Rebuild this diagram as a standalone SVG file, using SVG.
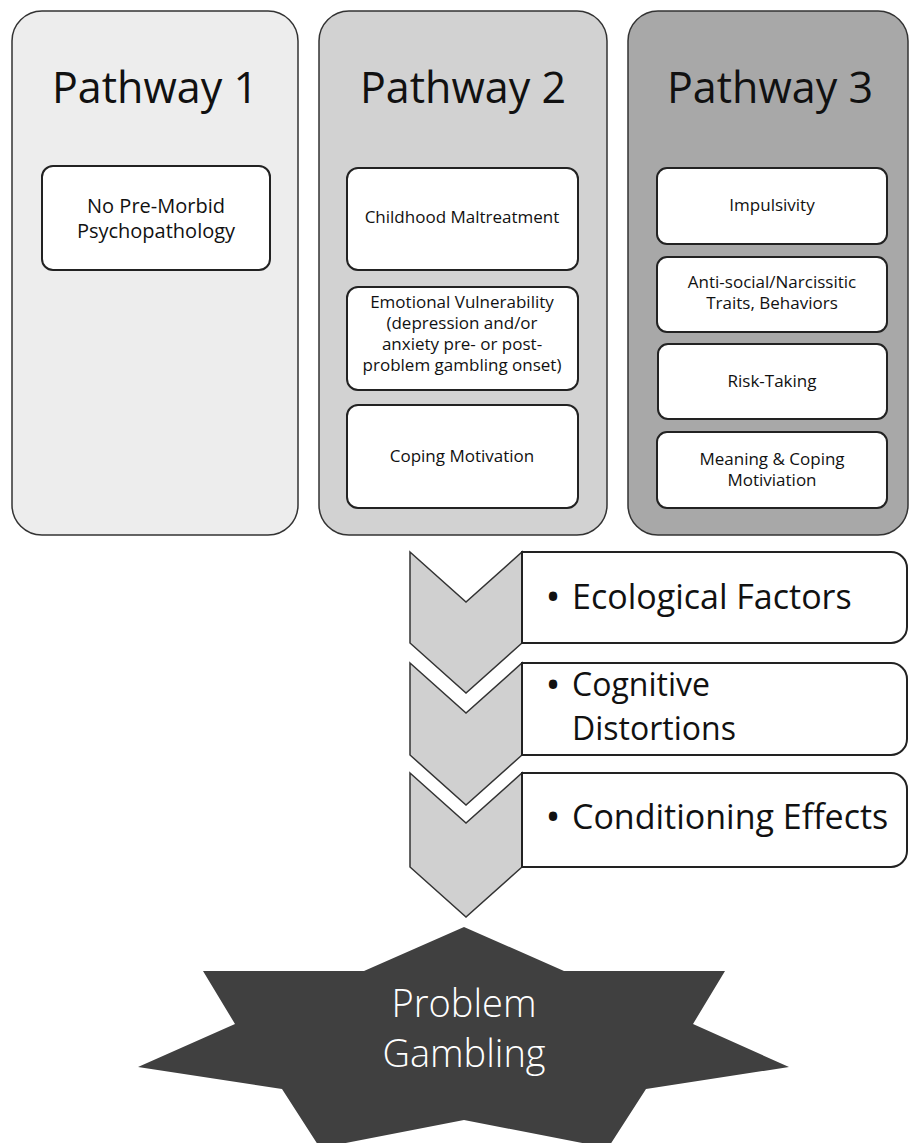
<svg xmlns="http://www.w3.org/2000/svg" width="909" height="1143" viewBox="0 0 909 1143">
<style>
.panel{stroke:#333;stroke-width:1.5}
.box{fill:#fff;stroke:#222;stroke-width:2}
.t{font-family:"Open Sans","Liberation Sans",sans-serif;fill:#111;text-anchor:middle}
.title{font-size:43px}
.small{font-size:17px}
.big{font-size:34px;text-anchor:start}
.bul{font-size:40px}
.chev{fill:#d0d0d0;stroke:#333;stroke-width:1.5;stroke-linejoin:miter}
.rbox{fill:#fff;stroke:#222;stroke-width:2}
</style>
<rect width="909" height="1143" fill="#fff"/>
<g id="pathway1">
<rect class="panel" x="12" y="11" width="286" height="524" rx="30" fill="#ededed"/>
<text class="t title" x="155" y="103">Pathway 1</text>
<g id="p1-no-premorbid">
<rect class="box" x="42" y="166" width="228" height="104" rx="11"/>
<text class="t" style="font-size:20px" x="156" y="213">No Pre-Morbid<tspan x="156" y="238">Psychopathology</tspan></text>
</g>
</g>
<g id="pathway2">
<rect class="panel" x="319" y="11" width="288" height="524" rx="30" fill="#d2d2d2"/>
<text class="t title" x="463" y="103">Pathway 2</text>
<g id="p2-childhood">
<rect class="box" x="347" y="168" width="231" height="102" rx="11"/>
<text class="t small" x="462" y="223">Childhood Maltreatment</text>
</g>
<g id="p2-emotional">
<rect class="box" x="347" y="287" width="231" height="103" rx="11"/>
<text class="t small" x="462" y="308">Emotional Vulnerability<tspan x="462" y="329">(depression and/or</tspan><tspan x="462" y="350">anxiety pre- or post-</tspan><tspan x="462" y="371">problem gambling onset)</tspan></text>
</g>
<g id="p2-coping">
<rect class="box" x="347" y="405" width="231" height="103" rx="11"/>
<text class="t small" x="462" y="462">Coping Motivation</text>
</g>
</g>
<g id="pathway3">
<rect class="panel" x="628" y="11" width="280" height="524" rx="30" fill="#a8a8a8"/>
<text class="t title" x="770" y="103">Pathway 3</text>
<g id="p3-impulsivity">
<rect class="box" x="657" y="168" width="230" height="76" rx="10"/>
<text class="t small" x="772" y="211">Impulsivity</text>
</g>
<g id="p3-antisocial">
<rect class="box" x="657" y="257" width="230" height="75" rx="10"/>
<text class="t small" x="772" y="288">Anti-social/Narcissitic<tspan x="772" y="309">Traits, Behaviors</tspan></text>
</g>
<g id="p3-risk">
<rect class="box" x="658" y="344" width="229" height="75" rx="10"/>
<text class="t small" x="772" y="387">Risk-Taking</text>
</g>
<g id="p3-meaning">
<rect class="box" x="657" y="432" width="230" height="76" rx="10"/>
<text class="t small" x="772" y="465">Meaning &amp; Coping<tspan x="772" y="486">Motiviation</tspan></text>
</g>
</g>
<g id="connectors">
<polygon class="chev" points="410,552 466,602 522,552 522,643 466,693 410,643"/>
<polygon class="chev" points="410,663 466,713 522,663 522,755 466,805 410,755"/>
<polygon class="chev" points="410,773 466,823 522,773 522,867 466,917 410,867"/>
</g>
<g id="ecological">
<path class="rbox" d="M522,552 H891 A16,16 0 0 1 907,568 V627 A16,16 0 0 1 891,643 H522 Z"/>
<text class="t bul" x="553" y="611">•</text>
<text class="t big" x="572" y="609">Ecological Factors</text>
</g>
<g id="cognitive">
<path class="rbox" d="M522,663 H891 A16,16 0 0 1 907,679 V739 A16,16 0 0 1 891,755 H522 Z"/>
<text class="t bul" x="553" y="699">•</text>
<text class="t big" style="font-size:32px" x="572" y="696">Cognitive<tspan x="572" y="740">Distortions</tspan></text>
</g>
<g id="conditioning">
<path class="rbox" d="M522,773 H891 A16,16 0 0 1 907,789 V851 A16,16 0 0 1 891,867 H522 Z"/>
<text class="t bul" x="553" y="831">•</text>
<text class="t big" x="572" y="829">Conditioning Effects</text>
</g>
<g id="problem-gambling">
<polygon fill="#404040" points="464,927 564,971 725,971 693,1024 789,1067 646,1089 608,1148 464,1120 320,1148 282,1089 138,1067 235,1024 203,971 364,971"/>
<text class="t" style="font-size:38px;font-weight:300;fill:#fff" x="464" y="1017">Problem<tspan x="464" y="1067">Gambling</tspan></text>
</g>
</svg>
